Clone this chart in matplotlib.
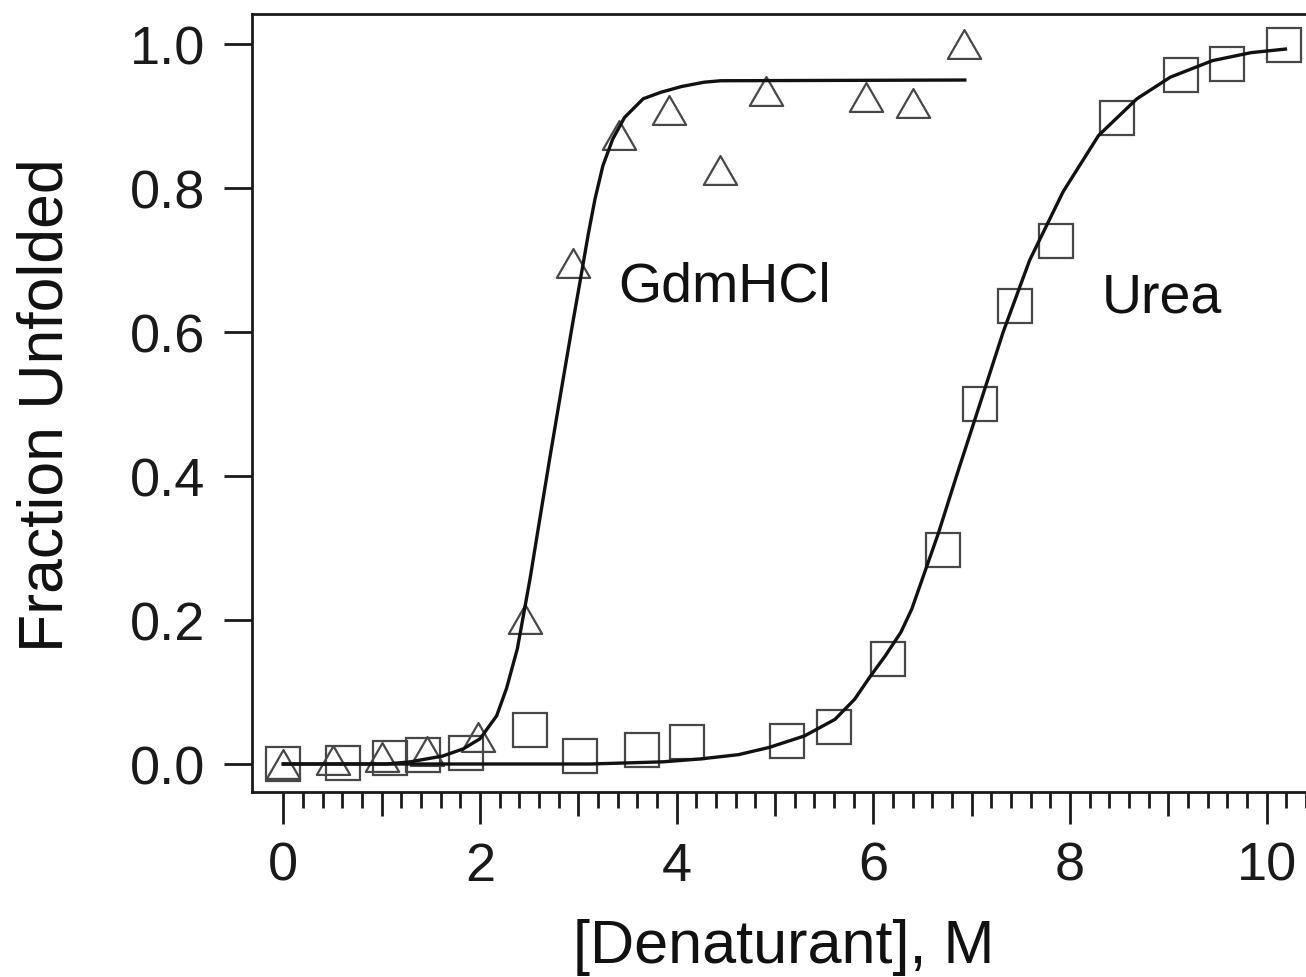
import numpy as np
import matplotlib

matplotlib.use("Agg")
from matplotlib import pyplot as plt
from matplotlib.path import Path

plt.rcParams["font.family"] = ["Liberation Sans", "DejaVu Sans"]

# measured points (triangles = GdmHCl, squares = urea)
gdm_x = [0.0, 0.51, 1.0, 1.46, 1.98, 2.46, 2.95, 3.41, 3.92, 4.44, 4.91, 5.93, 6.40, 6.92]
gdm_y = [0.0, 0.006, 0.010, 0.018, 0.037, 0.201, 0.696, 0.874, 0.909, 0.825, 0.935, 0.927, 0.918, 1.0]

urea_x = [0.0, 0.61, 1.09, 1.42, 1.86, 2.51, 3.02, 3.65, 4.11, 5.12,
          5.60, 6.15, 6.71, 7.08, 7.44, 7.86, 8.48, 9.13, 9.60, 10.18]
urea_y = [0.0, 0.001, 0.008, 0.013, 0.015, 0.047, 0.011, 0.020, 0.030, 0.032,
          0.052, 0.146, 0.297, 0.500, 0.636, 0.727, 0.897, 0.957, 0.972, 0.998]

# fitted curves
gdm_fit_x = [0.0, 1.05, 1.29, 1.62, 1.83, 2.00, 2.17, 2.27, 2.38, 2.44, 2.51, 2.59, 2.71,
             2.84, 2.94, 3.02, 3.10, 3.17, 3.25, 3.35, 3.47, 3.66, 3.84, 4.05, 4.28, 4.45, 6.93]
gdm_fit_y = [0.0, 0.0, 0.003, 0.011, 0.021, 0.035, 0.067, 0.105, 0.160, 0.205, 0.258, 0.325, 0.425,
             0.530, 0.610, 0.672, 0.735, 0.785, 0.831, 0.868, 0.898, 0.924, 0.933, 0.941, 0.947, 0.949, 0.950]

urea_fit_x = [0.0, 3.12, 3.86, 4.24, 4.63, 4.94, 5.30, 5.61, 5.81, 5.96, 6.12, 6.28, 6.39,
              6.66, 6.85, 7.10, 7.32, 7.59, 7.93, 8.29, 8.68, 9.02, 9.45, 9.84, 10.19]
urea_fit_y = [0.0, 0.0, 0.003, 0.007, 0.013, 0.023, 0.039, 0.062, 0.090, 0.120, 0.150, 0.183, 0.215,
              0.320, 0.402, 0.507, 0.600, 0.700, 0.795, 0.873, 0.924, 0.954, 0.977, 0.988, 0.993]

y_ticks = [0.0, 0.2, 0.4, 0.6, 0.8, 1.0]
y_tick_labels = ["0.0", "0.2", "0.4", "0.6", "0.8", "1.0"]
x_ticks = list(range(0, 11))

W, H = 1306, 978
fig = plt.figure(figsize=(W / 100, H / 100), dpi=100, facecolor="white")
ax = fig.add_axes([252 / W, 1 - 793 / H, (1311 - 252) / W, (793 - 15) / H])

# closed triangle, centred on its bounding box
TRIANGLE = Path(
    [(-1, -0.866), (1, -0.866), (0, 0.866), (-1, -0.866)],
    [Path.MOVETO, Path.LINETO, Path.LINETO, Path.CLOSEPOLY],
)
marker_style = dict(linestyle="none", fillstyle="none", markeredgecolor="#474747",
                    markeredgewidth=1.6, zorder=2)
ax.plot(gdm_x, gdm_y, marker=TRIANGLE, markersize=24, **marker_style)
ax.plot(urea_x, urea_y, marker="s", markersize=24, **marker_style)

ax.plot(gdm_fit_x, gdm_fit_y, color="#111111", linewidth=2.4, zorder=3,
        solid_joinstyle="round")
ax.plot(urea_fit_x, urea_fit_y, color="#111111", linewidth=2.4, zorder=3,
        solid_joinstyle="round")

ax.text(3.41, 0.644, "GdmHCl", fontsize=40, color="#111111")
ax.text(8.32, 0.629, "Urea", fontsize=40, color="#111111")

ax.set_xlim(-0.318, 10.45)
ax.set_ylim(-0.0389, 1.0417)

ax.set_xticks(x_ticks)
ax.set_xticklabels([str(t) if t % 2 == 0 else "" for t in x_ticks])
ax.set_xticks(np.arange(0, 10.41, 0.2), minor=True)
ax.set_yticks(y_ticks)
ax.set_yticklabels(y_tick_labels)

ax.tick_params(axis="x", which="major", direction="out", length=23, width=2,
               labelsize=39, pad=12, colors="#1a1a1a")
ax.tick_params(axis="x", which="minor", direction="out", length=11.5, width=2, colors="#1a1a1a")
ax.tick_params(axis="y", which="major", direction="out", length=20, width=2,
               labelsize=39, pad=14, colors="#1a1a1a")
for tick_value, tick in zip(x_ticks, ax.xaxis.get_major_ticks()):
    if tick_value % 2:
        tick.tick1line.set_markersize(17)

for side in ("left", "top", "bottom"):
    ax.spines[side].set_linewidth(2.0)
    ax.spines[side].set_color("#1a1a1a")
ax.spines["right"].set_visible(False)

fig.text(784 / W, 1 - 963 / H, "[Denaturant], M", fontsize=44, color="#111111",
         ha="center", va="baseline")
fig.text(63 / W, 1 - 405 / H, "Fraction Unfolded", fontsize=45, color="#111111",
         rotation=90, rotation_mode="anchor", ha="center", va="baseline")

fig.savefig("out.png", dpi=100, facecolor="white")
plt.close(fig)
